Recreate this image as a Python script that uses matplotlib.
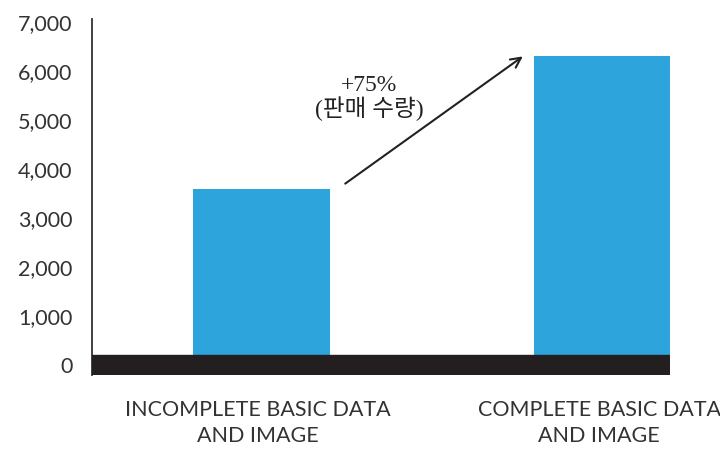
import matplotlib.pyplot as plt

categories = ['INCOMPLETE BASIC DATA\nAND IMAGE', 'COMPLETE BASIC DATA\nAND IMAGE']
sales = [3600, 6300]
yticks = [0, 1000, 2000, 3000, 4000, 5000, 6000, 7000]
note = '+75%\n(판매 수량)'

fig = plt.figure(figsize=(7.2, 4.49), dpi=100)
ax = fig.add_axes([92 / 720, 1 - 375 / 449, (670 - 92) / 720, (375 - 19) / 449])

x = range(len(sales))
ax.bar(x, sales, width=0.4, color='#2ea4dc', zorder=2)
# thick black base band around zero
ax.axhspan(-200, 200, color='#231f20', zorder=3)

ax.set_xlim(-0.497, 1.198)
ax.set_ylim(-200, 7060)
ax.set_yticks(yticks)
ax.set_yticklabels([f'{v:,}' for v in yticks], fontsize=15.5, color='#333333',
                   family='Lato')
ax.tick_params(axis='y', length=0, pad=14)
ax.set_xticks([])

for s in ['top', 'right', 'bottom']:
    ax.spines[s].set_visible(False)
ax.spines['left'].set_color('#333333')
ax.spines['left'].set_linewidth(1.3)

for i, c in enumerate(categories):
    ax.text(i - 0.01, -700, c, ha='center', va='top', fontsize=15.5,
            color='#333333', family='Lato', linespacing=1.4)

# arrow from first bar to second bar
ax.annotate('', xy=(0.773, sales[1] + 30), xytext=(0.239, sales[0] + 70),
            arrowprops=dict(arrowstyle='->', color='#222222', lw=1.5,
                            mutation_scale=18))
ax.text(0.315, 5450, note, ha='center', va='center', fontsize=17,
        family=['Liberation Serif', 'Noto Sans CJK KR'], color='#222222',
        linespacing=1.05)

fig.savefig('out.png', dpi=100)
